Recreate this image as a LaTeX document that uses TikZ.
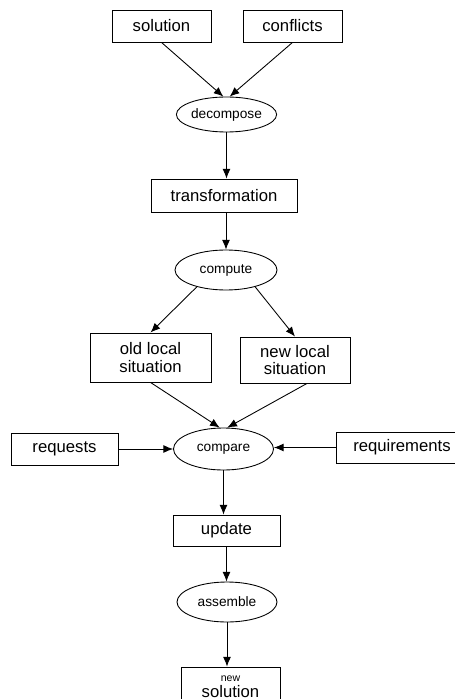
\documentclass[tikz,border=0pt]{standalone}
\usepackage{fontspec}
\setmainfont{Liberation Sans}
\usetikzlibrary{shapes.geometric,arrows.meta}

\begin{document}
\begin{tikzpicture}[>={Latex[length=5.5pt,width=4.5pt]}, line width=0.5pt,
        box/.style={draw, rectangle, inner sep=0pt, align=center, font=\fontsize{9.5}{10}\selectfont},
        oval/.style={draw, ellipse, inner sep=0pt, font=\fontsize{7.8}{9}\selectfont}]
    \useasboundingbox (0,0) rectangle (9.08,-13.98);

    \node[box, minimum width=1.98cm, minimum height=0.64cm] (sol) at (3.23,-0.52) {solution};
    \node[box, minimum width=1.98cm, minimum height=0.64cm] (conf) at (5.85,-0.52) {conflicts};
    \node[oval, minimum width=1.70cm, minimum height=0.70cm] (dec) at (4.53,-2.29) {decompose};

    \node[box, minimum width=2.92cm, minimum height=0.66cm] (trans) at (4.48,-3.91) {transformation};
    \node[oval, minimum width=2.04cm, minimum height=0.80cm] (comp) at (4.52,-5.40) {compute};

    \node[box, minimum width=2.42cm, minimum height=0.98cm] (old) at (3.01,-7.15) {old local\\situation};
    \node[box, minimum width=2.20cm, minimum height=0.92cm] (new) at (5.90,-7.20) {new local\\situation};

    \node[oval, minimum width=2.00cm, minimum height=0.84cm] (cmp) at (4.47,-8.98) {compare};
    \node[box, minimum width=2.14cm, minimum height=0.64cm] (req) at (1.29,-8.98) {requests};
    \node[box, minimum width=2.64cm, minimum height=0.62cm] (reqm) at (8.04,-8.95) {requirements};

    \node[box, minimum width=2.14cm, minimum height=0.62cm] (upd) at (4.53,-10.61) {update};
    \node[oval, minimum width=2.00cm, minimum height=0.80cm] (asm) at (4.54,-12.04) {assemble};
    \node[box, minimum width=1.98cm, minimum height=0.80cm] (newsol) at (4.61,-13.74) {{\fontsize{6}{6}\selectfont new}\\[-1pt]solution};

    \draw [->] (sol.south) -- (dec.100);
    \draw [->] (conf.south) -- (dec.80);
    \draw [->] (dec.south) -- (dec.south |- trans.north);
    \draw [->] (comp.north |- trans.south) -- (comp.north);
    \draw [->] (comp.210) -- (old.north);
    \draw [->] (comp.330) -- (new.north);
    \draw [->] (old.south) -- (cmp.100);
    \draw [->] ([xshift=0.24cm]new.south) -- (cmp.80);
    \draw [->] (req) -- (cmp);
    \draw [->] (reqm.west) -- (reqm.west -| cmp.east);
    \draw [->] (cmp.south) -- (cmp.south |- upd.north);
    \draw [->] (upd.south) -- (upd.south |- asm.north);
    \draw [->] (asm.south) -- (asm.south |- newsol.north);
\end{tikzpicture}
\end{document}
